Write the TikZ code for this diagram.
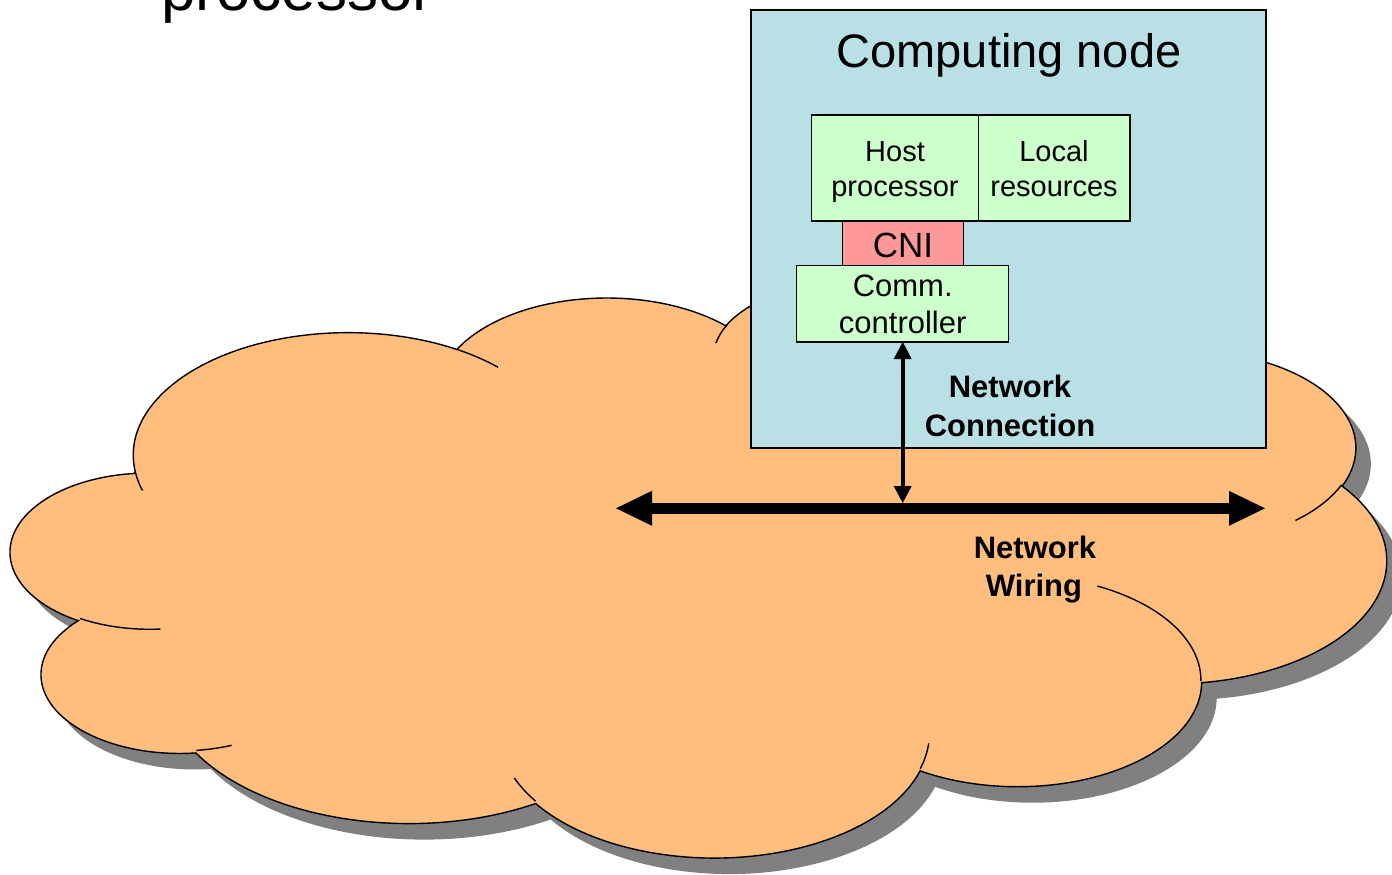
\documentclass[tikz,border=0pt]{standalone}
\usepackage{fontspec}
\setmainfont{Liberation Sans}
\usetikzlibrary{arrows.meta}

\definecolor{cloudfill}{RGB}{255,190,125}
\definecolor{cloudshade}{RGB}{128,128,128}
\definecolor{nodeblue}{RGB}{185,224,228}
\definecolor{partgreen}{RGB}{204,255,204}
\definecolor{cnired}{RGB}{255,153,153}

% Cloud outline: eleven elliptic lobes (parametric angles), in 1/100 units of the shape box
\newcommand\cloudoutline{(39.00,143.70)
  arc[start angle=-187.745, end angle=-59.64,  x radius=67.53, y radius=91.90]
  arc[start angle=-152.03,  end angle=-45.45,  x radius=53.33, y radius=72.67]
  arc[start angle=-153.49,  end angle=-37.33,  x radius=43.65, y radius=59.45]
  arc[start angle=-139.72,  end angle=-10.21,  x radius=48.57, y radius=65.95]
  arc[start angle=-74.77,   end angle=23.21,   x radius=53.33, y radius=72.73]
  arc[start angle=-37.53,   end angle=81.86,   x radius=67.75, y radius=92.20]
  arc[start angle=0.46,     end angle=121.97,  x radius=57.85, y radius=78.67]
  arc[start angle=16.84,    end angle=146.23,  x radius=67.52, y radius=92.15]
  arc[start angle=58.98,    end angle=150.19,  x radius=77.20, y radius=105.43]
  arc[start angle=-276.69,  end angle=-136.90, x radius=43.60, y radius=59.18]
  arc[start angle=-239.65,  end angle=-95.89,  x radius=43.45, y radius=59.45]
  -- cycle}

% Short inner continuations of the lobes
\newcommand\cloudfolds{
  (46.93,261.77)  arc[start angle=85.55,   end angle=120.35,  x radius=43.45, y radius=59.45]
  (69.28,348.99)  arc[start angle=68.24,   end angle=83.31,   x radius=43.60, y radius=59.18]
  (164.78,390.90) arc[start angle=146.23,  end angle=158.47,  x radius=67.52, y radius=92.15]
  (288.27,347.51) arc[start angle=4.74,    end angle=16.84,   x radius=67.52, y radius=92.15]
  (341.29,229.54) arc[start angle=-64.03,  end angle=0.46,    x radius=57.85, y radius=78.67]
  (417.98,153.54) arc[start angle=23.21,   end angle=49.64,   x radius=53.33, y radius=72.73]
  (383.24,54.26)  arc[start angle=-10.21,  end angle=0.82,    x radius=48.57, y radius=65.95]
  (290.78,39.52)  arc[start angle=-156.29, end angle=-139.72, x radius=48.57, y radius=65.95]
  (221.41,47.20)  arc[start angle=-167.73, end angle=-153.49, x radius=43.65, y radius=59.45]
  (140.00,51.92)  arc[start angle=-59.64,  end angle=-45.73,  x radius=67.53, y radius=91.90]
  (41.27,157.89)  arc[start angle=163.20,  end angle=172.26,  x radius=67.53, y radius=91.90]
}

\begin{document}
\begin{tikzpicture}[x=1pt,y=-1pt,
  cloudframe/.style={shift={(11.1,280.1)}, x=1pt, y=1pt, xscale=3.183, yscale=-1.333},
  panel/.style={draw=black, line width=1.5pt, inner sep=0pt, outer sep=0pt, anchor=north west},
  greenbox/.style={panel, fill=partgreen},
  txt/.style={anchor=base, inner sep=0pt},
  bigtxt/.style={txt, font=\fontsize{47}{56}\selectfont},
  parttxt/.style={txt, font=\fontsize{29}{35}\selectfont},
  commtxt/.style={txt, font=\fontsize{31}{37}\selectfont},
  boldtxt/.style={txt, font=\bfseries\fontsize{31}{38}\selectfont},
  wire/.style={line width=11pt,
    {Triangle[length=36pt,width=35pt,line width=0pt]}-{Triangle[length=36pt,width=35pt,line width=0pt]}},
  link/.style={line width=4pt,
    {Triangle[length=17pt,width=18pt,line width=0pt]}-{Triangle[length=17pt,width=18pt,line width=0pt]}}
]
\useasboundingbox (0,0) rectangle (1392,875);
\clip (0,0) rectangle (1392,875);

% heading running off the top edge
\node[anchor=base west, inner sep=0pt, font=\fontsize{62}{70}\selectfont] (heading) at (161,11) {processor};

% cloud: shadow, body, inner folds
\begin{scope}[shift={(15,16)}]
  \begin{scope}[cloudframe]
    \fill[cloudshade] \cloudoutline;
  \end{scope}
\end{scope}
\begin{scope}[cloudframe]
  \filldraw[fill=cloudfill, draw=black, line width=1.4pt] \cloudoutline;
  \draw[line width=1.4pt] \cloudfolds;
\end{scope}

% computing node and its parts
\node[panel, fill=nodeblue, minimum width=515pt, minimum height=438pt] (cnode) at (751,10) {};
\node[greenbox, minimum width=166.6pt, minimum height=106pt] (host) at (811.7,115) {};
\node[greenbox, minimum width=151.7pt, minimum height=106pt] (local) at (978.3,115) {};
\node[panel, fill=cnired, minimum width=120.6pt, minimum height=44.7pt] (cni) at (842.7,221) {};
\node[greenbox, minimum width=212pt, minimum height=76.3pt] (comm) at (796.7,265.7) {};

\node[bigtxt] (cnodeTitle) at (1009,67) {Computing node};
\node[parttxt] (hostA) at (895,161.7) {Host};
\node[parttxt] (hostB) at (895,196.7) {processor};
\node[parttxt] (localA) at (1054,161.7) {Local};
\node[parttxt] (localB) at (1054,196.7) {resources};
\node[txt, font=\fontsize{35}{40}\selectfont] (cniText) at (903,257.3) {CNI};
\node[commtxt] (commA) at (902.7,296.7) {Comm.};
\node[commtxt] (commB) at (902.7,333.5) {controller};

% network wiring and the node's connection to it
\coordinate (wireL) at (616,508.3);
\coordinate (wireR) at (1265,508.3);
\coordinate (tap) at (902.7,503);
\draw[wire] (wireL) -- (wireR);
\draw[link] (comm.south) -- (tap);

\node[boldtxt] (connA) at (1010,397.3) {Network};
\node[boldtxt] (connB) at (1010,436.7) {Connection};
\node[boldtxt] (wireA) at (1035,558.3) {Network};
\node[boldtxt] (wireB) at (1034,596.7) {Wiring};
\end{tikzpicture}
\end{document}
